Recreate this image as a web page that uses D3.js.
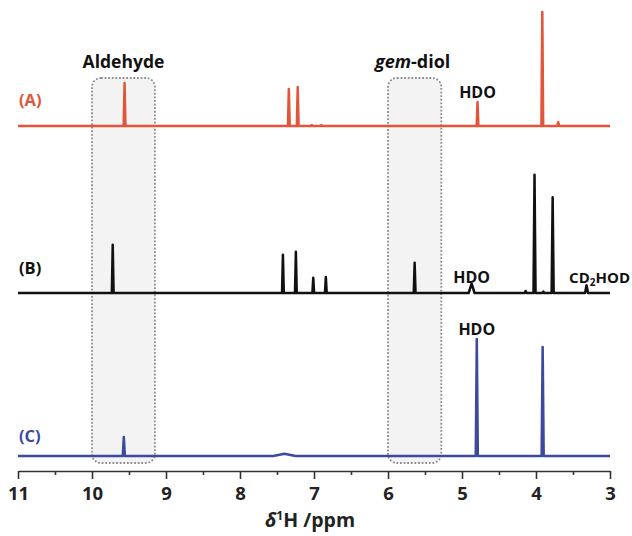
<!DOCTYPE html>
<html><head><meta charset="utf-8">
<script src="https://cdn.jsdelivr.net/npm/d3@7"></script>
<style>
html,body{margin:0;padding:0;background:#fff;}
svg{display:block;}
text{font-family:"Open Sans","Liberation Sans",sans-serif;font-weight:bold;}
</style></head>
<body>
<svg id="c" width="632" height="536"></svg>
<script>
// ---- data (ppm, relative intensity, linewidth in ppm) ----
const spectrumNames = ["(A)", "(B)", "(C)"];
const peaksA_ppm = [9.56, 7.34, 7.22, 7.03, 6.90, 4.79, 3.915, 3.70];
const peaksA_int = [37.7, 32.5, 34.2, 0.9, 0.9, 21.1, 100, 3.5];
const peaksA_w   = [0.012, 0.012, 0.012, 0.01, 0.01, 0.012, 0.012, 0.012];

const peaksB_ppm = [9.72, 7.42, 7.245, 7.01, 6.84, 5.64, 4.87, 4.14, 4.02, 3.90, 3.775, 3.317];
const peaksB_int = [42.4, 33.6, 36.2, 13.4, 14.0, 26.6, 8.2, 1.8, 103.8, 1.3, 83.9, 6.7];
const peaksB_w   = [0.012, 0.012, 0.012, 0.012, 0.012, 0.012, 0.04, 0.012, 0.014, 0.012, 0.014, 0.02];

const peaksC_ppm = [9.57, 7.40, 4.80, 3.91];
const peaksC_int = [16.7, 2.0, 102.6, 95.6];
const peaksC_w   = [0.014, 0.15, 0.014, 0.014];

const xTicksMajor = [11, 10, 9, 8, 7, 6, 5, 4, 3];
const xTicksMinor = [10.5, 9.5, 8.5, 7.5, 6.5, 5.5, 4.5, 3.5];
const regionNames = ["Aldehyde", "gem-diol"];
const regionFrom  = [10.0, 6.0];
const regionTo    = [9.15, 5.28];

// ---- layout ----
const svg = d3.select("#c");
const x = d3.scaleLinear().domain([11, 3]).range([18, 610]);
const yI = d3.scaleLinear().domain([0, 100]).range([0, 114]);
const baselines = [126, 293, 456];
const colors = ["#e2553a", "#111111", "#3b4a9e"];
const axisY = 471;

// shaded regions
const boxTop = 78, boxBot = 463;
regionFrom.forEach((f, i) => {
  const x0 = x(f), x1 = x(regionTo[i]);
  svg.append("rect")
    .attr("x", x0).attr("y", boxTop)
    .attr("width", x1 - x0).attr("height", boxBot - boxTop)
    .attr("rx", 9).attr("ry", 9)
    .attr("fill", "#f3f3f3")
    .attr("stroke", "#8c8c8c").attr("stroke-width", 1.8)
    .attr("stroke-dasharray", "1.8,1.8");
});

// spectra
function spectrumPoints(ppm, inten, w) {
  const pts = [[11, 0]];
  const idx = d3.range(ppm.length).sort((a, b) => ppm[b] - ppm[a]);
  idx.forEach(i => {
    pts.push([ppm[i] + w[i], 0]);
    pts.push([ppm[i], inten[i]]);
    pts.push([ppm[i] - w[i], 0]);
  });
  pts.push([3, 0]);
  return pts;
}
const specs = [
  spectrumPoints(peaksA_ppm, peaksA_int, peaksA_w),
  spectrumPoints(peaksB_ppm, peaksB_int, peaksB_w),
  spectrumPoints(peaksC_ppm, peaksC_int, peaksC_w)
];
specs.forEach((pts, i) => {
  const line = d3.line()
    .x(d => x(d[0]))
    .y(d => baselines[i] - yI(d[1]));
  svg.append("path")
    .attr("d", line(pts))
    .attr("fill", "none")
    .attr("stroke", colors[i])
    .attr("stroke-width", 2.5)
    .attr("stroke-linejoin", "round");
});

// spectrum labels
const labY = [106, 274, 442];
spectrumNames.forEach((n, i) => {
  svg.append("text").attr("x", 19).attr("y", labY[i])
    .attr("font-size", 16.5).attr("fill", colors[i]).text(n);
});

// region labels
svg.append("text").attr("x", (x(regionFrom[0]) + x(regionTo[0])) / 2)
  .attr("y", 68).attr("text-anchor", "middle").attr("font-size", 17.5).attr("fill", "#111")
  .text(regionNames[0]);
const gemT = svg.append("text").attr("x", (x(regionFrom[1]) + x(regionTo[1])) / 2 - 2)
  .attr("y", 68).attr("text-anchor", "middle").attr("font-size", 18).attr("fill", "#111");
gemT.append("tspan").attr("font-style", "italic").text(regionNames[1].split("-")[0]);
gemT.append("tspan").text("-" + regionNames[1].split("-")[1]);

// peak annotations
function ann(t, px, py) {
  return svg.append("text").attr("x", px).attr("y", py).attr("font-size", 16)
    .attr("fill", "#111").attr("text-anchor", "middle").text(t);
}
ann("HDO", x(4.79), 98);
ann("HDO", x(4.87), 283);
ann("HDO", x(4.80), 335);
const cd = svg.append("text").attr("x", 630).attr("y", 283).attr("font-size", 15)
  .attr("fill", "#111").attr("text-anchor", "end");
cd.append("tspan").text("CD");
cd.append("tspan").attr("font-size", 10).attr("dy", 3).text("2");
cd.append("tspan").attr("dy", -3).text("HOD");

// axis
const gA = svg.append("g").attr("transform", `translate(0,${axisY})`);
gA.call(d3.axisBottom(x).tickValues(xTicksMajor).tickSize(8).tickSizeOuter(0).tickPadding(8).tickFormat(d3.format("d")));
gA.select(".domain").attr("stroke", "#333").attr("stroke-width", 1.6);
gA.selectAll(".tick line").attr("stroke", "#333").attr("stroke-width", 1.6);
gA.selectAll(".tick text").attr("font-family", "'Liberation Sans',Arial,sans-serif")
  .attr("font-weight", "bold").attr("font-size", 18.5).attr("fill", "#222");
const gM = svg.append("g").attr("transform", `translate(0,${axisY})`);
gM.call(d3.axisBottom(x).tickValues(xTicksMinor).tickSize(4).tickFormat(""));
gM.select(".domain").remove();
gM.selectAll(".tick line").attr("stroke", "#333").attr("stroke-width", 1.6);

// axis title
const tt = svg.append("text").attr("x", 310).attr("y", 527).attr("text-anchor", "middle")
  .attr("font-family", "'Liberation Sans',Arial,sans-serif").attr("font-size", 19.5).attr("fill", "#222");
tt.append("tspan").attr("font-style", "italic").text("δ");
tt.append("tspan").attr("font-size", 12).attr("dy", -7).text("1");
tt.append("tspan").attr("dy", 7).text("H /ppm");
</script>
</body></html>
